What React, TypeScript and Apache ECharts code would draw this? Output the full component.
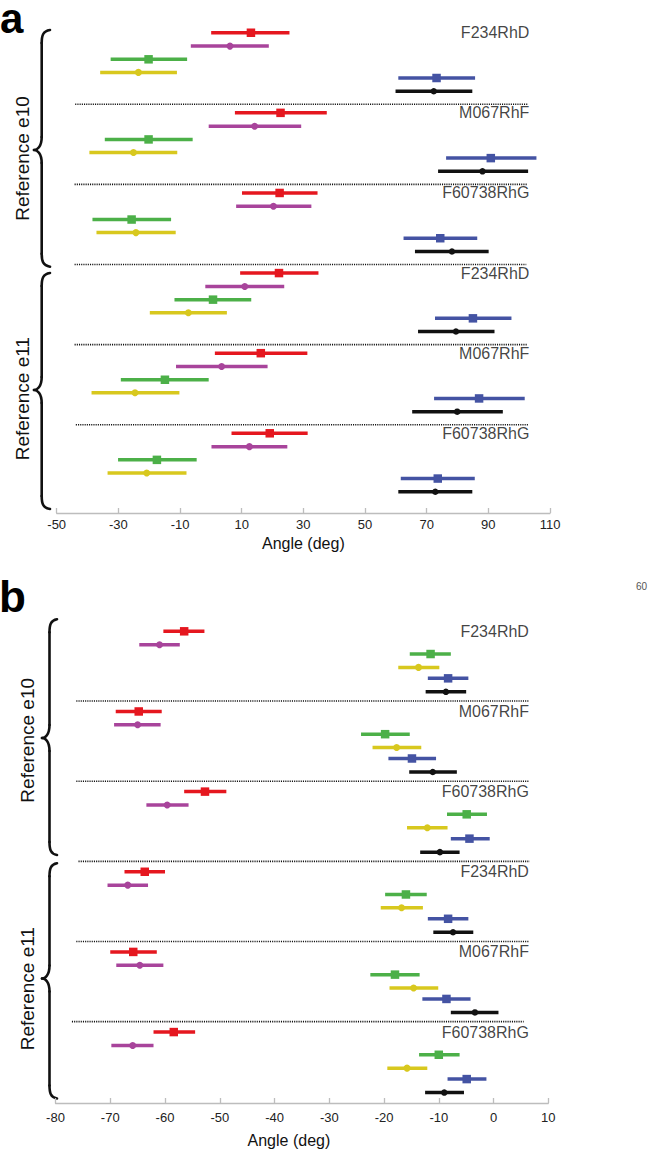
import React, { useEffect, useRef } from "react";
import * as echarts from "echarts";

// ---------- data ----------
const GROUPS = ["F234RhD", "M067RhF", "F60738RhG", "F234RhD", "M067RhF", "F60738RhG"];
const REFS = ["Reference e10", "Reference e11"];
const A_TICKS = [-50, -30, -10, 10, 30, 50, 70, 90, 110];
const B_TICKS = [-80, -70, -60, -50, -40, -30, -20, -10, 0, 10];
const AXIS_NAME = "Angle (deg)";

// [mean, low, high] per group (6 groups: e10 x3, e11 x3)
const A_RED = [[13, 0.1, 25.5], [22.6, 7.8, 37.6], [22.3, 10.1, 34.6], [22.1, 9.5, 34.9], [16.2, 1.3, 31.3], [19.1, 6.7, 31.4]];
const A_PURPLE = [[6.2, -6.5, 18.8], [14.2, -0.7, 29.3], [20.3, 8.2, 32.6], [11, -1.8, 23.8], [3.5, -11.3, 18.4], [12.5, 0.2, 24.8]];
const A_GREEN = [[-20.2, -32.5, -7.7], [-20.2, -34.4, -5.9], [-25.7, -38.4, -12.9], [0.7, -11.8, 13.1], [-14.9, -29.2, -0.7], [-17.5, -30.1, -4.6]];
const A_YELLOW = [[-23.5, -35.9, -11], [-25.1, -39.4, -10.9], [-24.3, -37.1, -11.4], [-7.3, -19.8, 5.2], [-24.6, -38.7, -10.2], [-20.8, -33.5, -7.9]];
const A_BLUE = [[73.2, 60.8, 85.7], [90.8, 76.3, 105.6], [74.4, 62.5, 86.4], [85, 72.7, 97.5], [87, 72.4, 101.8], [73.6, 61.6, 85.6]];
const A_BLACK = [[72.3, 59.9, 84.8], [88.1, 73.7, 102.9], [78.2, 66.2, 90.1], [79.5, 67.2, 92], [79.9, 65.3, 94.7], [72.8, 60.8, 84.8]];

const B_RED = [[-56.5, -60.3, -52.8], [-64.8, -69, -60.6], [-52.7, -56.5, -48.8], [-63.7, -67.4, -60], [-65.8, -70, -61.5], [-58.4, -62.1, -54.5]];
const B_PURPLE = [[-61, -64.7, -57.3], [-65, -69.3, -60.8], [-59.6, -63.4, -55.7], [-66.8, -70.5, -63.1], [-64.6, -68.9, -60.3], [-65.9, -69.8, -62.1]];
const B_GREEN = [[-11.5, -15.3, -7.8], [-19.8, -24.2, -15.3], [-4.9, -8.5, -1.2], [-16, -19.8, -12.2], [-18, -22.5, -13.5], [-10, -13.6, -6.2]];
const B_YELLOW = [[-13.7, -17.4, -9.9], [-17.7, -22.1, -13.2], [-12.1, -15.8, -8.4], [-16.8, -20.6, -12.9], [-14.6, -19, -10.1], [-15.8, -19.4, -12.1]];
const B_BLUE = [[-8.3, -12, -4.6], [-14.9, -19.2, -10.5], [-4.4, -7.8, -0.7], [-8.3, -12, -4.6], [-8.6, -13, -4.2], [-4.9, -8.4, -1.3]];
const B_BLACK = [[-8.7, -12.4, -5], [-11.1, -15.4, -6.7], [-9.8, -13.4, -6.2], [-7.4, -11, -3.7], [-3.4, -7.8, 0.9], [-9, -12.5, -5.4]];

// separator extents [from, to] in degrees
const A_SEP = [[-44, 103], [-44.2, 102.6], [-44.2, 102.3], [-44.2, 102.6], [-43.8, 103]];
const B_SEP = [[-76.2, 6.5], [-76.2, 6.5], [-75.8, 6.6], [-76.2, 6.4], [-77, 5.5]];

// ---------- styles / layout ----------
const FONT = "'Liberation Sans', Arial, Helvetica, sans-serif";
const COLORS = {
  red: "#e5171f",
  purple: "#a8449b",
  green: "#4cb048",
  yellow: "#d8c81e",
  blue: "#4453a3",
  black: "#111111",
};

type PanelCfg = {
  idx: number;
  series: { key: keyof typeof COLORS; data: number[][]; symbol: string; size: number }[];
  offsets: Record<string, number>;
  seps: number[][];
  labelX: number;
};

function buildPanel(cfg: PanelCfg) {
  const out: any[] = [];
  const { idx } = cfg;
  const rowY = (g: number, key: string) => g * 6 + cfg.offsets[key];
  out.push({
    type: "custom",
    xAxisIndex: idx,
    yAxisIndex: idx,
    silent: true,
    z: 1,
    data: cfg.seps.map((s, i) => [s[0], s[1], (i + 1) * 6]),
    encode: { x: [0, 1], y: 2 },
    renderItem: (_p: any, api: any) => {
      const p1 = api.coord([api.value(0), api.value(2)]);
      const p2 = api.coord([api.value(1), api.value(2)]);
      return {
        type: "line",
        shape: { x1: p1[0], y1: p1[1], x2: p2[0], y2: p2[1] },
        style: { stroke: "#111", lineWidth: 1.6, lineDash: [1.1, 1.1], fill: null },
      };
    },
  });
  cfg.series.forEach((s) => {
    const color = COLORS[s.key];
    out.push({
      type: "custom",
      xAxisIndex: idx,
      yAxisIndex: idx,
      silent: true,
      z: 2,
      data: s.data.map((d, g) => [d[1], d[2], rowY(g, s.key)]),
      encode: { x: [0, 1], y: 2 },
      renderItem: (_p: any, api: any) => {
        const p1 = api.coord([api.value(0), api.value(2)]);
        const p2 = api.coord([api.value(1), api.value(2)]);
        return {
          type: "line",
          shape: { x1: p1[0], y1: p1[1], x2: p2[0], y2: p2[1] },
          style: { stroke: color, lineWidth: 3.5, fill: null },
        };
      },
    });
    out.push({
      type: "scatter",
      xAxisIndex: idx,
      yAxisIndex: idx,
      silent: true,
      z: 3,
      symbol: s.symbol,
      symbolSize: s.size,
      itemStyle: { color, opacity: 1 },
      data: s.data.map((d, g) => [d[0], rowY(g, s.key)]),
    });
  });
  out.push({
    type: "scatter",
    xAxisIndex: idx,
    yAxisIndex: idx,
    silent: true,
    z: 4,
    symbolSize: 0,
    data: GROUPS.map((name, g) => [cfg.labelX, rowY(g, "red"), name]),
    label: {
      show: true,
      position: "left",
      distance: 0,
      formatter: (p: any) => p.value[2],
      fontFamily: FONT,
      fontSize: 16,
      color: "#111",
    },
  });
  return out;
}

function brace(xs: number, xt: number, xc: number, y0: number, ym: number, y1: number) {
  const r = 13;
  const style = { stroke: "#111", lineWidth: 2.6, fill: null, lineCap: "round" };
  return [
    { type: "bezierCurve", shape: { x1: xt, y1: y0, cpx1: xs + 1, cpy1: y0 + 1, cpx2: xs, cpy2: y0 + 6, x2: xs, y2: y0 + r }, style },
    { type: "line", shape: { x1: xs, y1: y0 + r, x2: xs, y2: ym - r }, style },
    { type: "bezierCurve", shape: { x1: xs, y1: ym - r, cpx1: xs, cpy1: ym - 3, cpx2: xc + 3, cpy2: ym, x2: xc, y2: ym }, style },
    { type: "bezierCurve", shape: { x1: xc, y1: ym, cpx1: xc + 3, cpy1: ym, cpx2: xs, cpy2: ym + 3, x2: xs, y2: ym + r }, style },
    { type: "line", shape: { x1: xs, y1: ym + r, x2: xs, y2: y1 - r }, style },
    { type: "bezierCurve", shape: { x1: xs, y1: y1 - r, cpx1: xs, cpy1: y1 - 6, cpx2: xs + 1, cpy2: y1 - 1, x2: xt, y2: y1 }, style },
  ];
}

function vtext(text: string, x: number, y: number) {
  return {
    type: "text",
    x,
    y,
    rotation: Math.PI / 2,
    style: { text, font: `19px ${FONT}`, fill: "#111", align: "center", verticalAlign: "middle" },
  };
}

export default function App() {
  const ref = useRef<HTMLDivElement>(null);
  useEffect(() => {
    if (!ref.current) return;
    const chart = echarts.init(ref.current, null, { renderer: "svg" });

    const aSeries = buildPanel({
      idx: 0,
      series: [
        { key: "red", data: A_RED, symbol: "rect", size: 8.5 },
        { key: "purple", data: A_PURPLE, symbol: "circle", size: 7 },
        { key: "green", data: A_GREEN, symbol: "rect", size: 8.5 },
        { key: "yellow", data: A_YELLOW, symbol: "circle", size: 7 },
        { key: "blue", data: A_BLUE, symbol: "rect", size: 8.5 },
        { key: "black", data: A_BLACK, symbol: "circle", size: 6.5 },
      ],
      offsets: { red: 0.64, purple: 1.64, green: 2.63, yellow: 3.61, blue: 4.03, black: 5.02 },
      seps: A_SEP,
      labelX: 103.3,
    });
    const bSeries = buildPanel({
      idx: 1,
      series: [
        { key: "red", data: B_RED, symbol: "rect", size: 8.5 },
        { key: "purple", data: B_PURPLE, symbol: "circle", size: 7 },
        { key: "green", data: B_GREEN, symbol: "rect", size: 8.5 },
        { key: "yellow", data: B_YELLOW, symbol: "circle", size: 7 },
        { key: "blue", data: B_BLUE, symbol: "rect", size: 8.5 },
        { key: "black", data: B_BLACK, symbol: "circle", size: 6.5 },
      ],
      offsets: { red: 0.78, purple: 1.78, green: 2.48, yellow: 3.48, blue: 4.3, black: 5.31 },
      seps: B_SEP,
      labelX: 6.46,
    });

    const xAxisCommon = (min: number, max: number, ticks: number[], margin: number, nameGap: number, namePad: number[]) => ({
      type: "value",
      min,
      max,
      position: "bottom",
      splitLine: { show: false },
      axisLine: { show: true, onZero: false, lineStyle: { color: "#bdbdbd", width: 1.3 } },
      axisTick: { show: true, inside: true, length: 5, customValues: ticks, lineStyle: { color: "#bdbdbd", width: 1.3 } },
      axisLabel: { show: true, customValues: ticks, margin, fontFamily: FONT, fontSize: 13, color: "#222" },
      name: AXIS_NAME,
      nameLocation: "middle",
      nameGap,
      nameTextStyle: { fontFamily: FONT, fontSize: 16, color: "#111", padding: namePad },
    });

    chart.setOption({
      animation: false,
      backgroundColor: "#ffffff",
      grid: [
        { left: 56.7, right: 99, top: 24.2, height: 488.8, containLabel: false, outerBoundsMode: "none" },
        { left: 55.5, right: 100.7, top: 620.9, height: 482.1, containLabel: false, outerBoundsMode: "none" },
      ],
      xAxis: [
        { gridIndex: 0, ...xAxisCommon(-50, 110, A_TICKS, 5, 22, [0, 0, 0, 0]) },
        { gridIndex: 1, ...xAxisCommon(-80, 10, B_TICKS, 7.5, 29, [0, 26, 0, 0]) },
      ],
      yAxis: [
        { gridIndex: 0, type: "value", min: 0, max: 36.61, inverse: true, show: false },
        { gridIndex: 1, type: "value", min: 0, max: 36.09, inverse: true, show: false },
      ],
      series: [...aSeries, ...bSeries],
      graphic: [
        { type: "text", x: 0, y: 18, style: { text: "a", font: `bold 42px ${FONT}`, lineHeight: 28, fill: "#000", align: "left", verticalAlign: "middle" } },
        { type: "text", x: -1, y: 596, style: { text: "b", font: `bold 44px ${FONT}`, lineHeight: 40, fill: "#000", align: "left", verticalAlign: "middle" } },
        { type: "text", x: 647, y: 586, style: { text: "60", font: `10px ${FONT}`, fill: "#555", align: "right", verticalAlign: "middle" } },
        vtext(REFS[0], 22.5, 158.5),
        vtext(REFS[1], 22.5, 398.7),
        vtext(REFS[0], 27, 740.3),
        vtext(REFS[1], 27, 988.7),
        ...brace(41.7, 50, 34, 30, 150, 266.7),
        ...brace(41.7, 50, 34, 273, 390, 509),
        ...brace(49.5, 57, 42, 619.3, 738, 855),
        ...brace(49.5, 57, 42, 863.3, 978.5, 1098.5),
      ],
    });
    return () => chart.dispose();
  }, []);
  return <div ref={ref} style={{ position: "absolute", left: 0, top: 0, width: 649, height: 1150 }} />;
}
